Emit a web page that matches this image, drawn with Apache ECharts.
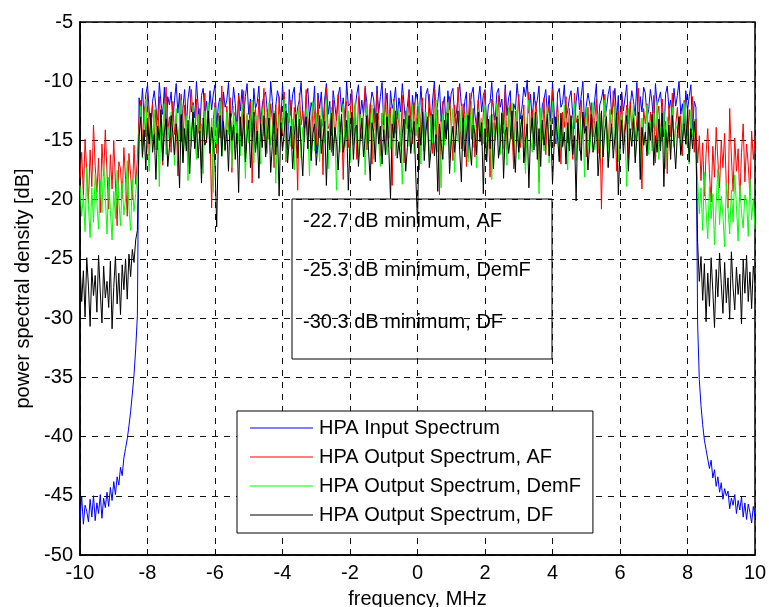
<!DOCTYPE html>
<html>
<head>
<meta charset="utf-8">
<script src="https://cdn.jsdelivr.net/npm/echarts@6/dist/echarts.min.js"></script>
<style>
  html, body { margin: 0; padding: 0; background: #fff; }
  #chart { width: 769px; height: 607px; }
</style>
</head>
<body>
<div id="chart"></div>
<script>
// sampling grid of the spectra, MHz (401 bins from -10 to 10)
var freqStart = -10
var freqStep = 0.05

var seriesNames = [
  'HPA Input Spectrum',
  'HPA Output Spectrum, AF',
  'HPA Output Spectrum, DemF',
  'HPA Output Spectrum, DF'
]
var seriesColors = ['#0000ff', '#ff0000', '#00ff00', '#000000']

var noteLabels = [
  '-22.7 dB minimum, AF',
  '-25.3 dB minimum, DemF',
  '-30.3 dB minimum, DF'
]

// HPA input spectrum [dB]
var inputSpectrum = [
  // -10 .. -8.3
  -46.9,-45.1,-47.4,-45.8,-46.3,-47.2,-45.3,-46.8,-45.0,-47.1,
  -45.6,-46.5,-44.9,-46.9,-45.2,-46.0,-44.7,-45.9,-44.3,-45.4,
  -43.8,-44.9,-43.4,-44.1,-42.6,-43.3,-41.8,-41.0,-40.2,-39.1,
  -37.9,-36.4,-34.8,-32.6,-29.8,
  // -8.25 .. 8.25
  -11.4,-12.9,-10.6,-13.2,-11.1,-10.3,-12.5,-14.0,-11.7,-10.8,
  -12.2,-13.6,-10.1,-11.9,-12.8,-10.5,-14.5,-11.3,-12.0,-10.9,
  -13.4,-11.6,-10.2,-12.7,-11.0,-15.1,-12.3,-10.7,-13.8,-11.5,
  -10.4,-12.6,-11.8,-13.1,-10.0,-12.1,-14.3,-11.2,-10.6,-12.9,
  -11.7,-13.5,-10.8,-12.4,-11.1,-10.3,-13.9,-12.0,-11.4,-15.5,
  -10.9,-12.2,-11.6,-10.1,-13.3,-12.7,-10.5,-11.9,-14.1,-11.0,
  -12.5,-10.7,-13.0,-11.3,-10.2,-12.8,-11.5,-14.7,-10.6,-12.3,
  -11.8,-10.4,-13.6,-12.0,-11.2,-10.9,-12.6,-13.2,-10.0,-11.7,
  -14.4,-12.1,-10.8,-11.4,-13.7,-10.3,-12.4,-11.9,-15.8,-10.7,
  -12.9,-11.1,-10.5,-13.4,-12.2,-11.6,-10.1,-12.7,-14.0,-11.3,
  -10.6,-13.1,-11.8,-12.5,-10.4,-16.1,-11.0,-12.3,-10.9,-13.8,
  -11.5,-10.2,-12.8,-11.7,-14.6,-10.8,-12.0,-13.3,-11.2,-10.5,
  -12.6,-11.4,-13.9,-10.0,-12.1,-11.9,-10.7,-14.2,-12.4,-11.1,
  -10.3,-13.0,-11.6,-12.9,-10.6,-11.8,-15.2,-12.2,-10.9,-11.5,
  -13.5,-10.4,-12.7,-11.3,-10.1,-13.7,-12.0,-11.0,-14.8,-10.8,
  -12.3,-11.7,-10.5,-13.2,-11.4,-12.6,-10.2,-11.9,-13.6,-12.1,
  -10.7,-14.3,-11.2,-12.8,-10.9,-11.6,-13.1,-10.4,-12.5,-15.0,
  -11.1,-10.6,-12.2,-13.8,-11.5,-10.0,-12.9,-11.8,-10.3,-13.4,
  -12.0,-11.3,-14.5,-10.8,-12.4,-11.0,-10.6,-13.0,-12.7,-11.4,
  -10.2,-12.1,-13.5,-11.7,-10.9,-16.4,-12.3,-11.1,-10.5,-12.8,
  -13.9,-11.6,-10.4,-12.6,-11.2,-10.7,-14.1,-12.0,-11.8,-10.1,
  -12.5,-13.3,-11.0,-10.6,-12.2,-11.5,-13.7,-10.3,-12.9,-11.4,
  -10.8,-14.9,-11.9,-12.4,-10.2,-11.7,-13.2,-12.1,-10.5,-11.3,
  -9.9,-12.7,-11.1,-13.6,-10.9,-12.3,-11.6,-10.4,-14.4,-12.0,
  -11.5,-10.7,-12.8,-11.2,-13.4,-10.1,-12.6,-15.3,-11.0,-10.6,
  -12.2,-11.8,-10.3,-13.1,-12.5,-11.4,-10.8,-12.9,-14.0,-11.7,
  -10.5,-12.4,-11.3,-10.0,-13.8,-12.1,-11.0,-10.9,-12.7,-13.5,
  -11.6,-10.2,-14.6,-12.0,-11.5,-10.7,-13.0,-12.3,-11.1,-10.4,
  -12.8,-11.9,-10.6,-13.3,-11.2,-15.7,-10.9,-12.5,-11.4,-10.3,
  -13.6,-12.2,-10.8,-11.7,-12.9,-10.1,-14.2,-11.3,-12.6,-10.5,
  -11.0,-13.1,-12.4,-10.7,-11.8,-13.9,-10.2,-12.0,-11.5,-10.9,
  -12.7,-14.7,-11.1,-10.4,-12.3,-11.6,-13.4,-10.6,-12.1,-11.2,
  -10.0,-12.8,-11.9,-13.7,-10.8,-12.5,-11.3,-10.3,-14.1,-11.7,
  -12.2,
  // 8.3 .. 10
  -30.5,-35.2,-37.4,-39.0,-40.3,-41.1,-41.9,-42.7,-42.0,-43.5,
  -42.8,-44.2,-43.4,-44.7,-43.9,-45.3,-44.4,-45.0,-44.6,-46.1,
  -45.2,-45.8,-44.9,-46.5,-45.4,-46.2,-45.1,-46.8,-45.6,-47.0,
  -45.7,-46.4,-47.3,-45.9,-46.7
]

// HPA output spectrum, AF [dB]
var afSpectrum = [
  -18.2,-16.0,-19.7,-14.9,-17.6,-20.3,-15.8,-18.9,-13.7,-17.2,
  -19.4,-16.5,-21.1,-15.3,-18.0,-14.1,-17.8,-20.8,-16.2,-19.1,
  -15.0,-18.6,-22.2,-16.8,-17.4,-19.9,-15.6,-18.3,-21.4,-16.1,
  -17.9,-20.0,-15.4,-18.7,-16.6,
  -13.1,-11.6,-15.4,-12.2,-14.7,-10.9,-16.3,-13.5,-11.9,-14.9,
  -12.4,-15.8,-11.3,-13.9,-17.1,-12.6,-10.5,-14.2,-13.0,-16.0,
  -11.7,-14.5,-12.9,-18.0,-13.3,-11.1,-15.1,-12.0,-14.0,-16.7,
  -12.8,-10.7,-13.6,-15.6,-11.5,-14.4,-12.3,-17.4,-13.8,-11.0,
  -15.2,-12.5,-14.1,-20.7,-13.2,-11.8,-16.1,-12.7,-14.8,-10.4,
  -13.7,-15.9,-12.1,-14.3,-11.4,-17.7,-13.0,-12.6,-15.3,-11.2,
  -14.6,-13.4,-10.8,-16.5,-12.9,-14.0,-11.7,-18.6,-13.1,-12.3,
  -15.0,-11.5,-14.2,-13.6,-10.6,-16.2,-12.4,-14.9,-11.9,-13.3,
  -17.3,-12.0,-15.5,-11.3,-13.9,-14.4,-10.9,-16.8,-12.7,-13.5,
  -11.6,-15.7,-12.2,-14.1,-19.2,-11.0,-13.7,-12.5,-15.1,-10.7,
  -14.5,-13.0,-16.4,-11.8,-12.8,-15.4,-11.4,-14.8,-13.2,-17.9,
  -12.1,-10.5,-14.0,-13.6,-16.0,-11.6,-15.2,-12.9,-11.1,-14.3,
  -13.4,-18.3,-12.4,-11.7,-15.6,-13.1,-10.8,-14.6,-12.0,-16.6,
  -11.3,-13.8,-14.9,-12.6,-10.4,-15.8,-13.5,-11.9,-17.0,-12.3,
  -14.2,-11.0,-13.3,-16.3,-12.7,-14.7,-10.6,-15.0,-13.9,-12.2,
  -18.8,-11.5,-14.4,-12.8,-13.6,-15.5,-11.2,-16.9,-12.5,-14.0,
  -10.9,-13.2,-15.3,-11.8,-14.6,-12.1,-17.5,-13.0,-11.4,-15.9,
  -12.9,-14.3,-11.1,-13.7,-16.1,-10.7,-14.8,-12.4,-19.6,-13.4,
  -11.7,-15.1,-12.6,-14.1,-11.3,-13.9,-16.7,-12.0,-14.5,-10.5,
  -13.1,-15.7,-11.9,-12.8,-17.2,-13.5,-11.0,-14.9,-12.3,-16.4,
  -14.0,-11.6,-13.3,-15.4,-12.7,-10.8,-14.7,-13.8,-18.1,-11.5,
  -12.2,-15.0,-13.6,-11.2,-16.0,-12.9,-14.4,-10.6,-15.8,-13.0,
  -11.8,-14.2,-17.4,-12.5,-13.4,-11.1,-15.6,-14.1,-12.0,-16.8,
  -13.7,-10.9,-14.6,-12.4,-15.3,-11.7,-13.2,-18.5,-12.8,-14.9,
  -11.4,-16.2,-13.0,-12.1,-14.8,-10.7,-15.5,-13.6,-11.9,-14.3,
  -17.0,-12.6,-13.9,-11.3,-15.2,-12.3,-14.5,-16.6,-11.0,-13.5,
  -12.9,-15.9,-11.6,-14.0,-13.1,-16.4,-12.2,-15.1,-11.8,-14.7,
  -13.3,-11.5,-16.1,-12.7,-20.8,-14.2,-11.1,-13.8,-15.7,-12.4,
  -14.4,-10.8,-13.0,-17.6,-12.5,-14.9,-11.4,-15.4,-13.5,-12.0,
  -16.5,-11.7,-14.1,-12.8,-15.0,-13.2,-10.6,-14.6,-19.1,-12.3,
  -13.6,-11.9,-15.8,-12.6,-14.3,-11.2,-16.9,-13.1,-12.1,-15.2,
  -11.5,-14.0,-13.4,-17.8,-12.0,-14.7,-11.0,-15.5,-13.7,-12.2,
  -14.8,-12.9,-16.3,-11.6,-13.9,-15.6,-12.4,-14.2,-11.3,-16.0,
  -13.2,
  -16.9,-14.6,-18.4,-15.2,-19.7,-16.1,-14.0,-17.8,-20.2,-15.5,
  -18.1,-13.9,-16.7,-19.0,-15.0,-17.3,-14.4,-18.8,-20.7,-12.3,
  -16.4,-19.3,-14.8,-17.6,-15.7,-20.1,-16.0,-13.6,-18.5,-15.3,
  -17.1,-19.6,-14.2,-16.6,-14.9
]

// HPA output spectrum, DemF [dB]
var demfSpectrum = [
  -18.8,-21.4,-19.6,-22.7,-17.3,-20.5,-23.2,-19.0,-21.9,-17.8,
  -20.2,-22.5,-18.4,-21.1,-16.9,-19.8,-22.9,-18.1,-20.9,-23.4,
  -19.3,-21.6,-17.5,-20.0,-22.2,-18.6,-21.3,-19.9,-16.7,-20.7,
  -22.6,-18.3,-21.0,-19.5,-17.6,
  -14.3,-12.1,-16.5,-13.7,-11.5,-15.4,-17.6,-13.0,-14.9,-12.4,
  -15.8,-13.3,-18.9,-12.7,-14.6,-11.9,-16.2,-13.9,-15.1,-12.6,
  -14.0,-17.1,-12.3,-15.7,-13.5,-11.6,-16.8,-14.4,-12.9,-18.4,
  -13.2,-15.5,-12.0,-14.8,-16.6,-12.8,-15.0,-13.6,-17.8,-12.5,
  -14.7,-11.8,-16.0,-13.1,-19.4,-12.2,-15.3,-14.1,-11.7,-16.4,
  -13.8,-15.9,-12.6,-14.5,-13.0,-17.3,-12.1,-15.6,-13.4,-14.9,
  -16.3,-11.9,-13.7,-18.2,-12.7,-15.2,-14.0,-11.6,-16.9,-13.3,
  -12.9,-15.7,-17.0,-12.3,-14.6,-13.1,-16.1,-11.8,-15.4,-14.2,
  -12.5,-18.6,-14.4,-12.8,-15.1,-13.6,-11.5,-16.7,-14.0,-12.0,
  -15.5,-13.2,-17.5,-12.6,-14.8,-11.9,-16.5,-13.9,-15.0,-12.4,
  -14.1,-18.0,-13.4,-11.7,-15.9,-12.7,-14.6,-16.8,-12.1,-13.8,
  -15.2,-11.6,-17.4,-13.5,-12.2,-15.8,-14.3,-19.2,-12.9,-16.0,
  -13.0,-11.9,-15.6,-14.2,-12.5,-16.9,-13.3,-15.4,-11.8,-14.7,
  -16.4,-12.8,-14.0,-13.1,-17.9,-12.3,-15.3,-13.7,-12.0,-16.6,
  -14.4,-12.6,-15.1,-17.2,-13.5,-12.1,-14.9,-16.2,-12.7,-15.7,
  -13.6,-11.7,-16.3,-14.1,-12.4,-15.0,-18.7,-13.2,-14.5,-12.2,
  -15.5,-13.8,-12.0,-16.1,-13.3,-14.8,-11.9,-17.0,-13.0,-15.8,
  -12.6,-14.3,-16.7,-12.9,-15.2,-13.9,-11.6,-16.0,-14.6,-19.0,
  -12.8,-15.4,-13.4,-11.8,-16.5,-14.0,-12.3,-17.7,-13.6,-15.1,
  -14.9,-12.1,-15.9,-13.2,-12.7,-16.8,-14.2,-11.7,-15.6,-13.7,
  -17.3,-12.5,-14.7,-13.1,-15.3,-12.0,-16.4,-14.4,-12.9,-18.3,
  -13.5,-15.0,-11.9,-14.1,-16.2,-12.6,-15.7,-13.3,-17.1,-12.2,
  -14.6,-11.8,-15.8,-13.9,-12.4,-16.6,-14.0,-12.8,-15.2,-17.8,
  -13.0,-11.6,-14.8,-16.0,-12.7,-15.5,-13.6,-19.5,-12.3,-14.3,
  -15.9,-13.4,-12.1,-16.9,-13.8,-11.7,-15.1,-14.5,-12.6,-16.3,
  -13.1,-15.6,-12.0,-14.2,-17.5,-12.9,-15.0,-13.7,-11.9,-16.7,
  -14.0,-12.5,-15.4,-13.2,-18.1,-12.2,-14.9,-16.1,-13.5,-11.8,
  -15.8,-14.4,-12.7,-16.5,-13.0,-15.2,-11.6,-14.7,-17.2,-12.4,
  -13.9,-15.7,-12.1,-14.1,-16.8,-13.3,-12.8,-15.3,-14.6,-18.9,
  -12.3,-15.0,-13.6,-11.9,-16.4,-14.3,-12.6,-17.6,-13.1,-15.5,
  -14.8,-12.0,-16.2,-13.4,-15.9,-12.7,-14.2,-11.7,-16.6,-13.8,
  -15.1,-12.5,-17.4,-13.0,-14.5,-16.0,-12.2,-15.6,-13.7,-14.1,
  -12.9,-16.3,-14.0,-11.8,-15.4,-13.5,-17.0,-12.4,-14.7,-13.2,
  -15.8,
  -18.4,-21.2,-19.0,-22.6,-17.7,-20.9,-23.3,-18.9,-21.6,-19.5,
  -23.8,-20.3,-17.4,-22.1,-19.7,-21.4,-24.0,-18.6,-20.8,-22.9,
  -19.2,-21.9,-17.9,-20.5,-23.5,-18.8,-21.1,-22.4,-19.6,-20.1,
  -23.1,-18.3,-21.7,-19.9,-22.5
]

// HPA output spectrum, DF [dB]
var dfSpectrum = [
  -25.4,-28.6,-26.0,-29.9,-24.9,-27.3,-30.7,-25.8,-28.1,-26.4,
  -29.5,-24.7,-27.8,-30.4,-25.6,-28.3,-26.9,-29.1,-25.2,-30.9,
  -27.4,-24.8,-28.8,-26.2,-29.7,-25.5,-27.6,-25.0,-28.4,-24.6,
  -26.5,-24.2,-25.3,-23.4,-22.6,
  -14.7,-13.0,-16.4,-14.1,-17.5,-13.5,-15.3,-12.7,-16.0,-14.5,
  -18.3,-13.8,-15.0,-12.4,-16.7,-14.3,-13.2,-17.2,-15.6,-12.9,
  -14.4,-16.2,-13.6,-15.1,-19.0,-12.8,-16.9,-14.0,-15.9,-13.3,
  -17.8,-14.6,-12.6,-15.7,-13.7,-16.5,-14.2,-18.6,-13.1,-15.4,
  -14.9,-12.5,-16.1,-13.9,-15.2,-17.0,-22.3,-14.8,-12.9,-16.3,
  -13.4,-15.8,-14.1,-17.6,-12.7,-15.0,-13.7,-16.6,-14.4,-19.4,
  -13.0,-15.5,-12.8,-16.8,-14.7,-13.3,-17.3,-15.1,-12.6,-16.0,
  -14.2,-18.2,-13.6,-15.6,-12.9,-16.4,-14.5,-13.1,-17.7,-15.3,
  -12.7,-16.2,-14.0,-19.7,-13.5,-15.9,-14.3,-12.5,-16.9,-15.0,
  -13.8,-17.4,-14.6,-12.8,-16.5,-13.2,-15.4,-18.0,-14.1,-13.0,
  -15.7,-12.6,-16.7,-14.4,-13.6,-17.1,-15.2,-12.9,-16.1,-14.8,
  -13.4,-18.8,-14.2,-15.8,-12.7,-16.3,-13.9,-15.1,-17.5,-14.6,
  -12.8,-16.0,-14.9,-13.3,-19.2,-15.5,-12.6,-16.6,-14.0,-13.7,
  -17.2,-15.0,-13.1,-16.4,-14.7,-12.9,-15.9,-18.4,-13.5,-14.3,
  -16.8,-12.7,-15.3,-13.8,-17.0,-14.1,-16.2,-13.0,-15.7,-19.9,
  -13.6,-14.8,-12.5,-16.5,-15.1,-16.9,-14.4,-13.2,-17.6,-15.6,
  -12.9,-16.1,-14.6,-13.4,-18.1,-22.0,-13.9,-15.4,-12.6,-16.7,
  -14.2,-13.0,-17.3,-15.8,-12.8,-16.3,-14.5,-19.3,-13.6,-15.2,
  -16.6,-13.3,-14.9,-12.7,-17.8,-15.0,-13.8,-16.0,-14.1,-12.5,
  -15.9,-18.5,-13.1,-16.4,-14.7,-12.9,-15.5,-17.1,-13.7,-14.4,
  -16.2,-12.6,-15.1,-13.5,-19.5,-14.0,-16.8,-13.2,-15.7,-12.8,
  -17.4,-14.6,-13.0,-16.5,-15.3,-12.7,-18.2,-14.3,-13.9,-16.1,
  -14.8,-12.5,-15.6,-17.7,-13.4,-16.0,-14.2,-12.9,-16.9,-15.0,
  -13.6,-19.0,-14.5,-13.1,-15.8,-12.6,-16.6,-14.0,-17.2,-13.3,
  -15.4,-14.1,-12.8,-16.3,-13.7,-18.7,-15.1,-13.0,-14.7,-16.8,
  -12.7,-15.5,-14.3,-17.0,-13.5,-15.9,-12.9,-16.2,-14.6,-20.1,
  -13.2,-15.0,-16.7,-12.6,-14.4,-13.8,-17.5,-15.3,-12.8,-16.0,
  -14.9,-13.4,-18.0,-15.7,-12.5,-16.4,-14.1,-13.0,-17.3,-15.2,
  -13.6,-16.5,-14.7,-12.7,-19.6,-15.8,-13.3,-16.1,-14.2,-12.9,
  -17.6,-14.0,-15.5,-13.1,-16.9,-14.8,-12.6,-18.3,-13.9,-15.4,
  -14.3,-16.3,-13.5,-15.0,-12.8,-17.1,-14.6,-16.0,-13.2,-15.9,
  -12.7,-18.9,-14.1,-15.6,-13.7,-16.6,-12.9,-15.1,-17.4,-14.4,
  -13.0,-16.2,-14.9,-13.6,-15.3,-12.6,-16.8,-14.0,-15.7,-13.4,
  -15.0,
  -23.6,-26.9,-24.8,-28.5,-25.4,-30.3,-26.2,-29.0,-24.9,-27.7,
  -30.8,-25.9,-28.2,-24.5,-27.1,-29.6,-25.3,-28.7,-26.6,-30.1,
  -24.4,-27.4,-29.3,-25.7,-28.0,-26.3,-30.5,-25.1,-27.9,-24.7,
  -28.6,-26.1,-29.2,-25.6,-27.0
]

var fontFamily = '"Liberation Sans", Arial, Helvetica, sans-serif'

function toPairs(values) {
  return values.map(function (v, i) {
    return [Math.round((freqStart + i * freqStep) * 100) / 100, v]
  })
}

var spectra = [inputSpectrum, afSpectrum, demfSpectrum, dfSpectrum]

var chart = echarts.init(document.getElementById('chart'), null, { renderer: 'canvas' })

chart.setOption({
  animation: false,
  backgroundColor: '#fff',
  textStyle: { fontFamily: fontFamily },
  grid: {
    left: 80,
    right: 14,
    top: 22,
    bottom: 52,
    outerBoundsMode: 'none',
    containLabel: false,
    show: true,
    borderColor: '#000',
    borderWidth: 1.5
  },
  legend: {
    orient: 'vertical',
    left: 237,
    top: 411,
    padding: [7, 12, 8, 13],
    itemGap: 9,
    itemWidth: 63,
    itemHeight: 1,
    icon: 'rect',
    backgroundColor: '#fff',
    borderColor: '#000',
    borderWidth: 1,
    data: seriesNames,
    textStyle: { fontSize: 20, lineHeight: 20, color: '#000', fontFamily: fontFamily, padding: [0, 0, 0, 1] }
  },
  xAxis: {
    type: 'value',
    min: -10,
    max: 10,
    interval: 2,
    name: 'frequency, MHz',
    nameLocation: 'middle',
    nameGap: 34,
    nameTextStyle: { fontSize: 20, color: '#000' },
    axisLine: { show: true, onZero: false, lineStyle: { color: '#000', width: 1.5 } },
    axisTick: { show: true, inside: true, length: 6, lineStyle: { color: '#000' } },
    axisLabel: { fontSize: 20, color: '#000', margin: 8 },
    splitLine: { show: true, lineStyle: { color: '#111', type: [6, 6], width: 1 } }
  },
  yAxis: {
    type: 'value',
    min: -50,
    max: -5,
    interval: 5,
    name: 'power spectral density [dB]',
    nameLocation: 'middle',
    nameGap: 46,
    nameTextStyle: { fontSize: 20, color: '#000' },
    axisLine: { show: true, onZero: false, lineStyle: { color: '#000', width: 1.5 } },
    axisTick: { show: true, inside: true, length: 6, lineStyle: { color: '#000' } },
    axisLabel: { fontSize: 20, color: '#000', margin: 7 },
    splitLine: { show: true, lineStyle: { color: '#111', type: [6, 6], width: 1 } }
  },
  graphic: [
    {
      type: 'rect',
      shape: { x: 292, y: 199, width: 260, height: 160 },
      style: { fill: 'transparent', stroke: '#000', lineWidth: 1 },
      z: 100
    }
  ].concat(noteLabels.map(function (t, i) {
    return {
      type: 'text',
      x: 303,
      y: [221, 270, 322][i],
      style: {
        text: t,
        fontSize: 20,
        fontFamily: fontFamily,
        fill: '#000',
        verticalAlign: 'middle'
      },
      z: 100
    }
  })),
  series: spectra.map(function (vals, k) {
    return {
      name: seriesNames[k],
      type: 'line',
      data: toPairs(vals),
      symbol: 'none',
      showSymbol: false,
      smooth: false,
      z: 2 + k,
      color: seriesColors[k],
      lineStyle: { width: 1, color: seriesColors[k] }
    }
  })
})
</script>
</body>
</html>
